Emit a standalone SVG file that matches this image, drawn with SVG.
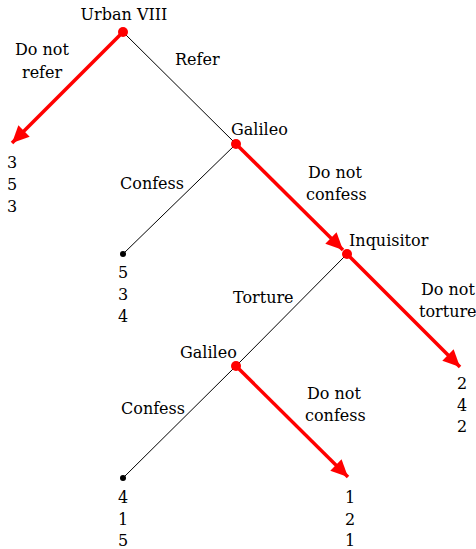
<svg xmlns="http://www.w3.org/2000/svg" width="476" height="549" viewBox="0 0 476 549">
<style>
text{font-family:"DejaVu Serif","Liberation Serif",serif;font-size:16px;fill:#000}
.b{stroke:#000;stroke-width:1;fill:none}
.r{stroke:#f00;stroke-width:3.5;fill:none}
.rd{fill:#f00}
</style>
<defs>
<marker id="ah" markerUnits="userSpaceOnUse" markerWidth="18" markerHeight="16" refX="17" refY="8" orient="auto">
<path d="M0,0 L17,8 L0,16 z" fill="#f00"/>
</marker>
</defs>
<rect width="476" height="549" fill="#fff"/>
<g id="connectors">
<line class="b" x1="123" y1="32" x2="236" y2="144"/>
<line class="b" x1="236" y1="144" x2="123" y2="254"/>
<line class="b" x1="347" y1="254" x2="236" y2="366"/>
<line class="b" x1="236" y1="366" x2="123" y2="478"/>
<line class="r" x1="123" y1="32" x2="12" y2="143" marker-end="url(#ah)"/>
<line class="r" x1="236" y1="144" x2="343" y2="250" marker-end="url(#ah)"/>
<line class="r" x1="347" y1="254" x2="460" y2="367" marker-end="url(#ah)"/>
<line class="r" x1="236" y1="366" x2="348" y2="477" marker-end="url(#ah)"/>
<text x="15" y="55">Do not</text>
<text x="22" y="78">refer</text>
<text x="175" y="65">Refer</text>
<text x="120" y="189">Confess</text>
<text x="308" y="178">Do not</text>
<text x="306" y="200">confess</text>
<text x="421" y="295">Do not</text>
<text x="419" y="317">torture</text>
<text x="233" y="303">Torture</text>
<text x="121" y="414">Confess</text>
<text x="307" y="399">Do not</text>
<text x="305" y="421">confess</text>
</g>
<g id="n-urban">
<circle class="rd" cx="123" cy="32" r="5"/>
<text x="124" y="20" text-anchor="middle">Urban VIII</text>
</g>
<g id="n-galileo1">
<circle class="rd" cx="236" cy="144" r="5"/>
<text x="231" y="135">Galileo</text>
</g>
<g id="n-inquisitor">
<circle class="rd" cx="347" cy="254" r="5"/>
<text x="349" y="246">Inquisitor</text>
</g>
<g id="n-galileo2">
<circle class="rd" cx="236" cy="366" r="5"/>
<text x="180" y="358">Galileo</text>
</g>
<g id="t-refer">
<text x="7" y="168">3</text><text x="7" y="190">5</text><text x="7" y="212">3</text>
</g>
<g id="t-confess1">
<circle cx="123" cy="254" r="3" fill="#000"/>
<text x="118" y="278">5</text><text x="118" y="300">3</text><text x="118" y="322">4</text>
</g>
<g id="t-nottorture">
<text x="457" y="389">2</text><text x="457" y="411">4</text><text x="457" y="432">2</text>
</g>
<g id="t-confess2">
<circle cx="123" cy="478" r="3" fill="#000"/>
<text x="118" y="503">4</text><text x="118" y="525">1</text><text x="118" y="546">5</text>
</g>
<g id="t-notconfess2">
<text x="345" y="503">1</text><text x="345" y="525">2</text><text x="345" y="546">1</text>
</g>
</svg>
